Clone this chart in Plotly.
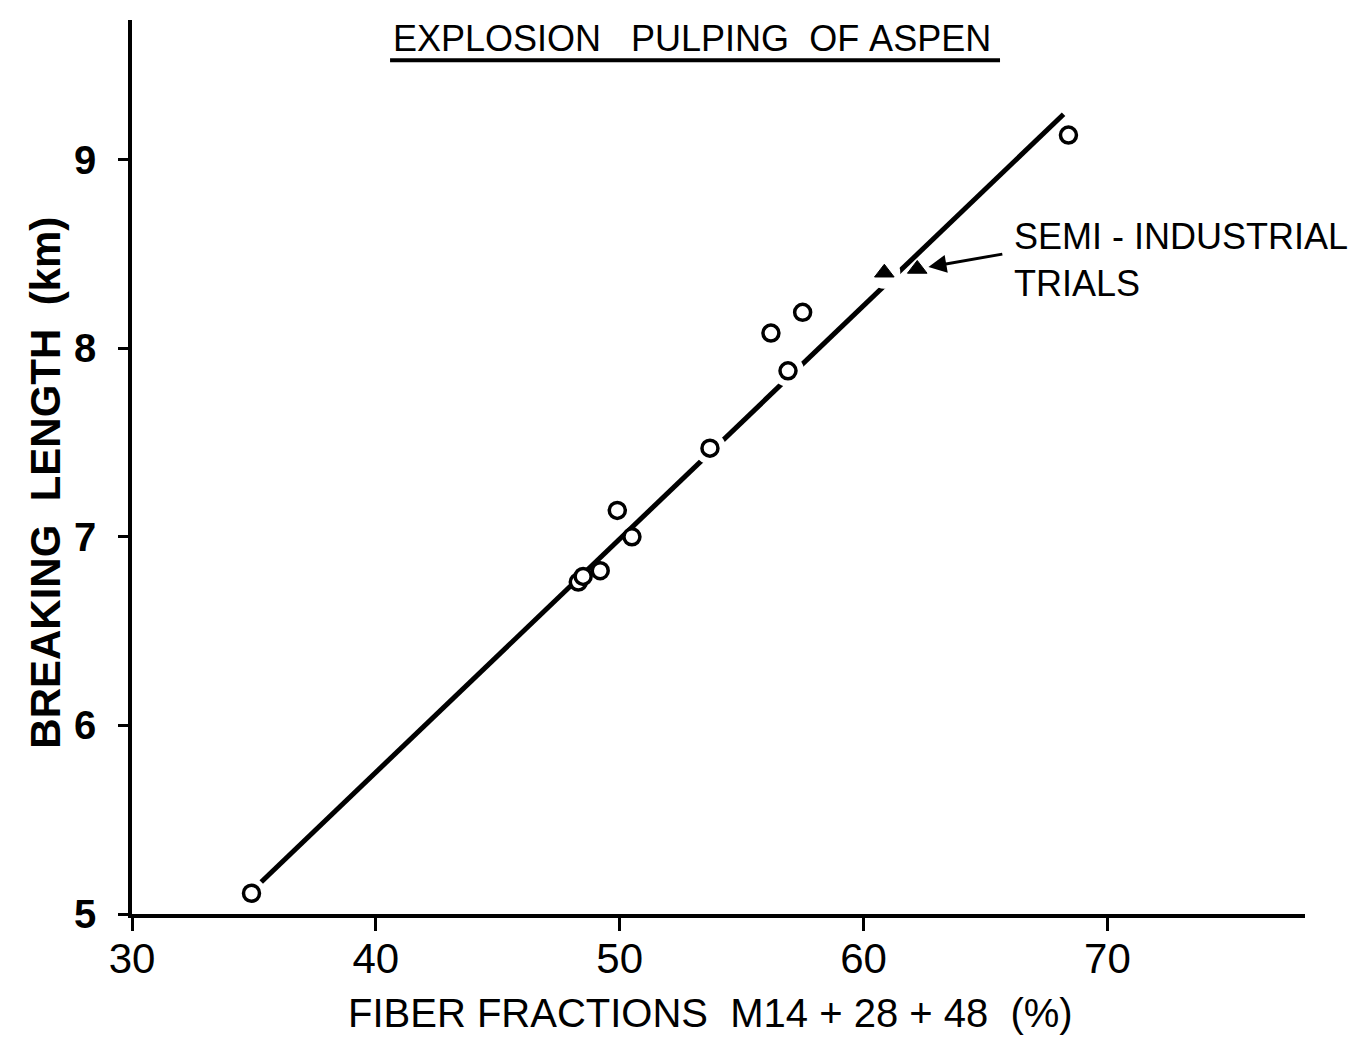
import plotly.graph_objects as go

# ---- data ----
circle_x = [34.9, 48.3, 48.5, 49.2, 49.9, 50.5, 53.7, 56.2, 56.9, 57.5, 68.4]
circle_y = [5.11, 6.76, 6.79, 6.82, 7.14, 7.00, 7.47, 8.08, 7.88, 8.19, 9.13]

trial_x = [60.85, 62.2]
trial_y = [8.40, 8.42]

fit_x = [35.3, 68.2]
fit_y = [5.17, 9.24]

# points drawn "on" the line (the line is broken around them)
circle_on_line = [4, 6, 8]
trial_on_line = [0]

x_ticks = [30, 40, 50, 60, 70]
y_ticks = [5, 6, 7, 8, 9]

NB = "\u00a0"
title_text = f"EXPLOSION{NB*3}PULPING{NB*2}OF{NB}ASPEN"
x_title = f"FIBER{NB}FRACTIONS{NB*2}M14{NB}+{NB}28{NB}+{NB}48{NB*2}(%)"
y_title = f"<b>BREAKING{NB*2}LENGTH{NB*2}(km)</b>"
note_text = f"SEMI{NB}-{NB}INDUSTRIAL<br>TRIALS"

FONT = "Liberation Sans, Arial, sans-serif"

fig = go.Figure()

# regression line
fig.add_trace(go.Scatter(x=fit_x, y=fit_y, mode="lines",
                         line=dict(color="black", width=5),
                         hoverinfo="skip"))

# white halos that break the line around the points lying on it
halo_x = [circle_x[i] for i in circle_on_line] + [trial_x[i] for i in trial_on_line]
halo_y = [circle_y[i] for i in circle_on_line] + [trial_y[i] for i in trial_on_line]
fig.add_trace(go.Scatter(x=halo_x, y=halo_y, mode="markers",
                         marker=dict(symbol="circle", size=32, color="white",
                                     line=dict(width=0)),
                         hoverinfo="skip"))

# open circles
fig.add_trace(go.Scatter(x=circle_x, y=circle_y, mode="markers",
                         marker=dict(symbol="circle", size=16, color="white",
                                     line=dict(color="black", width=3.5))))

# filled triangles (semi-industrial trials)
fig.add_trace(go.Scatter(x=trial_x, y=trial_y, mode="markers",
                         marker=dict(symbol="triangle-up", size=17, color="black",
                                     line=dict(color="black", width=1))))

fig.update_layout(
    width=1360, height=1039, autosize=False,
    margin=dict(l=132, r=55, t=20, b=125),
    paper_bgcolor="white", plot_bgcolor="white",
    showlegend=False,
    font=dict(family=FONT, color="black"),
)

fig.update_xaxes(
    range=[30, 78.1], tickvals=x_ticks, ticktext=[str(v) for v in x_ticks],
    showgrid=False, zeroline=False,
    showline=True, linecolor="black", linewidth=4,
    ticks="outside", ticklen=13, tickwidth=3, tickcolor="black",
    ticklabelstandoff=-8,
    tickfont=dict(family=FONT, size=42, color="black"),
)
fig.update_yaxes(
    range=[5, 9.74], tickvals=y_ticks, ticktext=[f"<b>{v}</b>" for v in y_ticks],
    showgrid=False, zeroline=False,
    showline=True, linecolor="black", linewidth=3.5,
    ticks="outside", ticklen=10, tickwidth=3, tickcolor="black",
    ticklabelstandoff=14,
    tickfont=dict(family=FONT, size=40, color="black"),
)

# title with hand-drawn underline
fig.add_annotation(text=title_text, xref="paper", yref="paper",
                   x=0.477, y=0.979, xanchor="center", yanchor="middle",
                   showarrow=False, font=dict(family=FONT, size=36, color="black"))
fig.add_shape(type="line", xref="paper", yref="paper",
              x0=0.22, x1=0.74, y0=0.955, y1=0.955,
              line=dict(color="black", width=4))

# axis titles
fig.add_annotation(text=x_title, xref="paper", yref="paper",
                   x=0.493, y=-0.111, xanchor="center", yanchor="middle",
                   showarrow=False, font=dict(family=FONT, size=40, color="black"))
fig.add_annotation(text=y_title, xref="paper", yref="paper",
                   x=-0.0745, y=0.482, xanchor="center", yanchor="middle",
                   textangle=-90, showarrow=False,
                   font=dict(family=FONT, size=42, color="black"))

# label with arrow for the trials
fig.add_annotation(text=note_text, x=66.1, y=8.465, xref="x", yref="y",
                   xanchor="left", yanchor="middle", align="left",
                   showarrow=False, font=dict(family=FONT, size=36, color="black"))
fig.add_annotation(text="", x=62.66, y=8.43, xref="x", yref="y",
                   ax=65.75, ay=8.50, axref="x", ayref="y",
                   showarrow=True, arrowhead=2, arrowsize=1.2, arrowwidth=3,
                   arrowcolor="black")

fig.write_html("out.html")
